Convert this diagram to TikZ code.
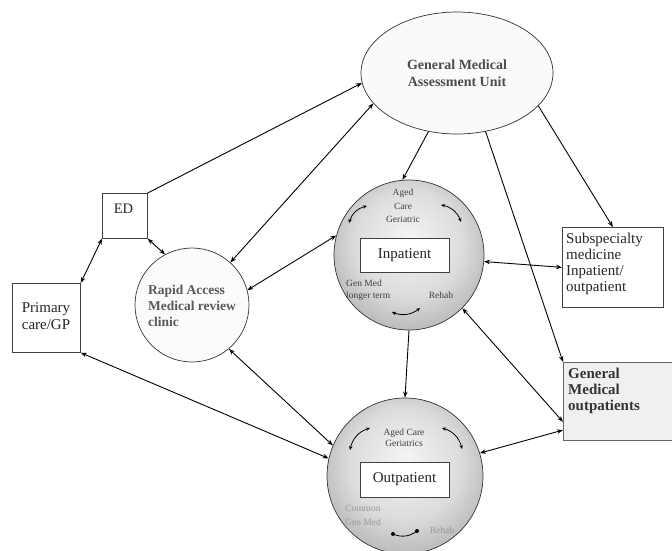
\documentclass[tikz,border=0pt]{standalone}
\usepackage{fontspec}
\setmainfont{Liberation Serif}
\usetikzlibrary{arrows.meta,shapes.geometric}
\pgfdeclareradialshading{ballshade}{\pgfpoint{0bp}{6bp}}{color(0bp)=(black!4); color(18bp)=(black!14); color(34bp)=(black!35); color(46bp)=(black!58); color(50bp)=(black!66)}
\begin{document}
\begin{tikzpicture}[x=1pt,y=-1pt,
  every node/.style={font=\fontsize{14}{16}\selectfont},
  boxnode/.style={draw=black!75,line width=0.7pt,inner sep=0pt},
  bigcircle/.style={circle,draw=black!80,line width=0.7pt,shading=ballshade},
  arr/.style={line width=0.9pt,-{Stealth[length=6pt,width=4.5pt]}},
  darr/.style={line width=0.9pt,{Stealth[length=6pt,width=4.5pt]}-{Stealth[length=6pt,width=4.5pt]}},
  tiny/.style={font=\fontsize{9.5}{11.5}\selectfont,text=black!75,align=center,inner sep=0pt},
  carr/.style={line width=0.8pt,{Stealth[length=4pt,width=3.5pt]}-{Stealth[length=4pt,width=3.5pt]}}]
\useasboundingbox (0,0) rectangle (672,550);
\fill[white] (0,0) rectangle (672,550);

% main nodes
\node[ellipse,draw=black!80,line width=0.7pt,minimum width=192pt,minimum height=122pt,fill=gray!4,
  font=\fontsize{14}{17}\selectfont\bfseries,text=black!70,align=center] (gmau) at (457,73)
  {General Medical\\Assessment Unit};
\node[boxnode,minimum width=45pt,minimum height=45pt,anchor=north west,text=black!85] (ed) at (102,193) {};
\node[text=black!85,font=\fontsize{14.5}{16}\selectfont] (edt) at (123.5,209) {ED};
\node[boxnode,minimum width=68pt,minimum height=69pt,anchor=north west] (gp) at (12,283) {};
\node[align=center,text=black!85,font=\fontsize{15}{17}\selectfont] (gpt) at (46,316) {Primary\\care/GP};
\node[circle,draw=black!80,line width=0.7pt,minimum size=114pt,fill=gray!3] (rapid) at (192,305) {};
\node[align=left,text=black!65,font=\fontsize{13.5}{16}\selectfont\bfseries] (rapidt) at (192,306)
  {Rapid Access\\Medical review\\clinic};
\node[bigcircle,minimum size=150pt] (inp) at (409,255) {};
\node[bigcircle,minimum size=156pt] (outp) at (405,476) {};
\node[boxnode,minimum width=101pt,minimum height=80pt,anchor=north west] (sub) at (562,227) {};
\node[align=left,anchor=north west,text=black!85,font=\fontsize{15}{16}\selectfont,inner sep=0pt] (subt) at (566,233)
  {Subspecialty\\medicine\\Inpatient/\\outpatient};
\node[boxnode,draw=black!60,fill=gray!12,minimum width=112pt,minimum height=78pt,anchor=north west] (gmo) at (563,362) {};
\node[align=left,anchor=north west,text=black!80,font=\fontsize{15}{16}\selectfont\bfseries,inner sep=0pt] (gmot) at (568,368)
  {General\\Medical\\outpatients};

% inner boxes
\node[boxnode,fill=white,minimum width=89pt,minimum height=34pt,font=\fontsize{15}{17}\selectfont,text=black!85] (inbox) at (404.5,255) {Inpatient};
\node[boxnode,fill=white,minimum width=89pt,minimum height=35pt,font=\fontsize{15}{17}\selectfont,text=black!85] (outbox) at (404.5,479.5) {Outpatient};

% inpatient inner texts
\node[tiny,font=\fontsize{9.5}{13.5}\selectfont] (inag) at (403,206) {Aged\\Care\\Geriatric};
\node[tiny,align=left,anchor=west] (ingm) at (346,290) {Gen Med\\longer term};
\node[tiny] (inrh) at (441,295) {Rehab};
\coordinate (ia1) at (349,223); \coordinate (ia2) at (367,206);
\coordinate (ia3) at (441,205); \coordinate (ia4) at (461,222);
\coordinate (ia5) at (392,312); \coordinate (ia6) at (420,308);
\draw[carr] (ia1) to[bend left=30] (ia2);
\draw[carr] (ia3) to[bend left=30] (ia4);
\draw[carr] (ia5) to[bend right=30] (ia6);

% outpatient inner texts
\node[tiny] (outag) at (404,437.5) {Aged Care\\Geriatrics};
\node[tiny,text=black!40,align=left,anchor=west,font=\fontsize{9.5}{14}\selectfont] (outcm) at (345,515) {Common\\Gen Med};
\node[tiny,text=black!40] (outrh) at (442,530) {Rehab};
\coordinate (oa1) at (350,450); \coordinate (oa2) at (370,428);
\coordinate (oa3) at (442,428); \coordinate (oa4) at (462,449);
\coordinate (oa5) at (393,534); \coordinate (oa6) at (417,531);
\draw[carr] (oa1) to[bend left=30] (oa2);
\draw[carr] (oa3) to[bend left=30] (oa4);
\draw[line width=0.8pt] (oa5) to[bend right=30] (oa6);
\fill (oa5) circle (2pt) (oa6) circle (2pt);

% connectors
\draw[arr] (ed.north east) -- (gmau.186);
\draw[darr] (ed.south west) -- (gp.north east);
\draw[darr] (ed.south east) -- (rapid.118);
\draw[darr] (gmau.200) -- (rapid.48);
\draw[arr] (gmau.244) -- (inp.95);
\draw[arr] (gmau.296) -- (gmo.north west);
\draw[arr] (gmau.-22) -- (sub.north);
\draw[darr] (inp.-5) -- (sub.west);
\draw[darr] (inp.-45) -- (gmo.200);
\draw[darr] (rapid.15) -- (inp.165);
\draw[arr] (inp.south) -- (outp.north);
\draw[darr] (rapid.-50) -- (outp.157);
\draw[darr] (gp.south east) -- (outp.167);
\draw[darr] (outp.17) -- (gmo.-153);
\end{tikzpicture}
\end{document}
